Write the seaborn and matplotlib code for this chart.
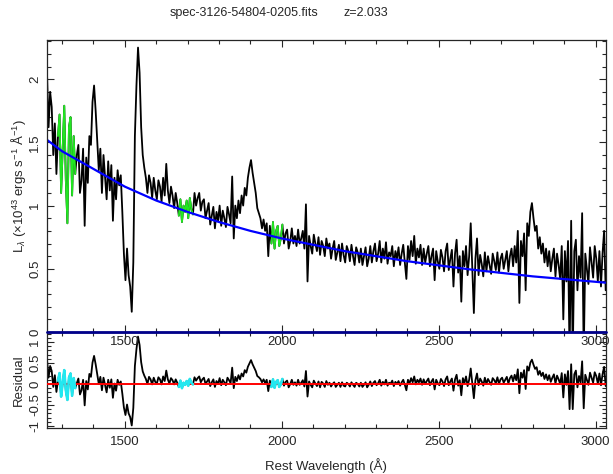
import numpy as np
import pandas as pd
import matplotlib
matplotlib.use("Agg")
import matplotlib.pyplot as plt
import seaborn as sns
from matplotlib.ticker import MultipleLocator, FixedLocator, FormatStrFormatter

# ---------------- data ----------------
title_file = "spec-3126-54804-0205.fits"
title_z = "z=2.033"

# spectrum sampled every 5 A from 1252 A
wave = np.arange(1252, 3033, 5)
flux = [
    2.05, 1.62, 1.90, 1.78, 1.40, 1.65, 1.25, 1.55, 1.72, 1.10, 1.45, 1.79, 1.20, 0.86, 1.62, 1.70, 1.08, 1.55, 1.25, 1.40,
    1.48, 1.10, 1.20, 1.45, 0.84, 1.38, 1.18, 1.55, 1.48, 1.82, 1.95, 1.75, 1.52, 1.28, 1.45, 1.10, 1.40, 1.22, 1.05, 1.35,
    1.12, 1.32, 0.88, 1.22, 1.05, 1.28, 1.16, 1.24, 0.95, 0.62, 0.41, 0.66, 0.45, 0.36, 0.16, 0.55, 1.55, 1.95, 2.25, 2.05,
    1.62, 1.40, 1.30, 1.22, 1.10, 1.24, 1.18, 1.06, 1.22, 1.12, 1.05, 1.20, 1.15, 1.03, 1.22, 1.08, 1.33, 1.12, 1.02, 1.15,
    1.08, 0.98, 1.10, 1.02, 0.92, 1.05, 0.87, 1.00, 0.95, 1.04, 0.90, 1.06, 0.97, 0.93, 1.10, 1.00, 1.06, 1.10, 0.96, 1.03,
    1.05, 0.90, 0.96, 1.02, 0.85, 0.92, 0.99, 0.82, 0.95, 0.88, 1.00, 0.84, 0.96, 0.90, 0.83, 0.99, 0.93, 0.86, 1.23, 0.74,
    1.00, 0.90, 1.04, 0.94, 1.08, 1.00, 1.14, 1.08, 1.22, 1.30, 1.36, 1.26, 1.18, 1.10, 0.98, 0.94, 0.90, 0.82, 0.89, 0.80,
    0.86, 0.60, 0.84, 0.70, 0.87, 0.66, 0.80, 0.84, 0.68, 0.74, 0.85, 0.70, 0.78, 0.81, 0.66, 0.72, 0.82, 0.70, 0.76, 0.68,
    0.81, 0.70, 0.74, 0.80, 0.66, 1.01, 0.40, 0.76, 0.68, 0.62, 0.77, 0.70, 0.64, 0.75, 0.61, 0.72, 0.68, 0.60, 0.74, 0.66,
    0.70, 0.58, 0.66, 0.72, 0.57, 0.63, 0.69, 0.56, 0.70, 0.61, 0.55, 0.68, 0.64, 0.56, 0.69, 0.60, 0.53, 0.67, 0.63, 0.55,
    0.66, 0.53, 0.60, 0.67, 0.52, 0.58, 0.68, 0.55, 0.64, 0.70, 0.56, 0.62, 0.72, 0.55, 0.66, 0.58, 0.71, 0.54, 0.63, 0.60,
    0.68, 0.52, 0.64, 0.58, 0.67, 0.53, 0.62, 0.69, 0.55, 0.42, 0.68, 0.57, 0.72, 0.60, 0.76, 0.54, 0.66, 0.59, 0.69, 0.53,
    0.66, 0.55, 0.62, 0.68, 0.52, 0.60, 0.66, 0.41, 0.64, 0.56, 0.50, 0.65, 0.59, 0.48, 0.64, 0.70, 0.49, 0.58, 0.65, 0.36,
    0.62, 0.73, 0.47, 0.60, 0.24, 0.64, 0.52, 0.68, 0.45, 0.60, 0.86, 0.50, 0.15, 0.58, 0.74, 0.45, 0.61, 0.54, 0.44, 0.63,
    0.48, 0.60, 0.53, 0.46, 0.62, 0.56, 0.49, 0.63, 0.47, 0.58, 0.62, 0.50, 0.57, 0.64, 0.48, 0.60, 0.66, 0.52, 0.68, 0.55,
    0.80, 0.23, 0.72, 0.60, 0.78, 0.33, 0.86, 0.76, 0.95, 1.02, 0.90, 0.80, 0.84, 0.66, 0.75, 0.62, 0.70, 0.55, 0.66, 0.52,
    0.64, 0.48, 0.58, 0.66, 0.44, 0.62, 0.53, 0.42, 0.68, 0.10, 0.64, 0.40, 0.72, -0.20, 0.88, -0.20, 0.64, 0.73, 0.33, 0.60,
    0.43, 0.94, -0.20, 0.62, 0.50, 0.38, 0.67, 0.55, 0.43, 0.68, 0.58, 0.40, 0.64, 0.36, 0.62, 0.80, 0.33,
]

# residual (data - continuum), same 5 A sampling
res_wave = np.arange(1252, 3033, 5)
residual = [
    0.58, 0.15, 0.43, 0.31, -0.07, 0.21, -0.19, 0.08, 0.26, -0.30, 0.03, 0.33, -0.15, -0.38, 0.15, 0.25, -0.28, 0.14, -0.10, 0.02,
    0.13, -0.25, -0.15, 0.10, -0.51, 0.07, -0.13, 0.24, 0.17, 0.51, 0.67, 0.47, 0.24, 0.00, 0.17, -0.15, 0.15, -0.03, -0.20, 0.10,
    -0.09, 0.11, -0.33, 0.01, -0.16, 0.10, -0.02, 0.06, -0.23, -0.56, -0.74, -0.49, -0.70, -0.79, -0.99, -0.57, 0.43, 0.83, 1.13, 0.93,
    0.52, 0.30, 0.20, 0.12, 0.00, 0.17, 0.11, -0.01, 0.15, 0.05, 0.01, 0.16, 0.11, -0.01, 0.18, 0.07, 0.32, 0.11, 0.01, 0.14,
    0.09, -0.01, 0.11, 0.03, -0.07, 0.08, -0.10, 0.03, -0.02, 0.07, -0.04, 0.12, 0.03, -0.01, 0.16, 0.08, 0.14, 0.18, 0.04, 0.11,
    0.15, 0.00, 0.06, 0.12, -0.05, 0.04, 0.11, -0.07, 0.07, 0.00, 0.14, -0.03, 0.10, 0.04, -0.03, 0.15, 0.09, 0.02, 0.39, -0.10,
    0.17, 0.07, 0.21, 0.11, 0.25, 0.18, 0.33, 0.27, 0.41, 0.49, 0.57, 0.47, 0.39, 0.31, 0.19, 0.16, 0.12, 0.04, 0.11, 0.02,
    0.10, -0.17, 0.08, -0.07, 0.11, -0.09, 0.05, 0.09, -0.07, -0.01, 0.12, -0.04, 0.05, 0.08, -0.08, 0.00, 0.10, -0.02, 0.04, -0.04,
    0.10, -0.02, 0.03, 0.09, -0.06, 0.31, -0.30, 0.06, -0.02, -0.08, 0.08, 0.01, -0.05, 0.06, -0.08, 0.05, 0.01, -0.07, 0.07, -0.02,
    0.03, -0.06, 0.00, 0.04, -0.07, -0.02, 0.03, -0.07, 0.04, -0.04, -0.06, 0.03, 0.00, -0.06, 0.04, -0.02, -0.07, 0.03, 0.00, -0.06,
    0.03, -0.07, -0.02, 0.04, -0.08, -0.02, 0.06, -0.05, 0.03, 0.07, -0.03, 0.02, 0.10, -0.04, 0.05, -0.01, 0.10, -0.04, 0.03, 0.01,
    0.08, -0.05, 0.05, 0.00, 0.07, -0.04, 0.04, 0.10, -0.02, -0.15, 0.10, 0.01, 0.14, 0.04, 0.18, -0.01, 0.10, 0.04, 0.13, -0.02,
    0.11, 0.00, 0.07, 0.13, -0.03, 0.06, 0.12, -0.13, 0.10, 0.02, -0.03, 0.12, 0.06, -0.05, 0.11, 0.18, -0.03, 0.06, 0.13, -0.16,
    0.11, 0.22, -0.04, 0.09, -0.27, 0.14, 0.02, 0.18, -0.05, 0.10, 0.37, 0.01, -0.34, 0.09, 0.25, -0.03, 0.13, 0.06, -0.04, 0.15,
    0.00, 0.12, 0.05, -0.02, 0.14, 0.09, 0.02, 0.16, 0.00, 0.11, 0.15, 0.03, 0.10, 0.17, 0.01, 0.14, 0.20, 0.06, 0.22, 0.09,
    0.35, -0.22, 0.27, 0.15, 0.33, -0.12, 0.42, 0.32, 0.51, 0.58, 0.46, 0.36, 0.40, 0.22, 0.31, 0.19, 0.27, 0.12, 0.23, 0.09,
    0.21, 0.05, 0.15, 0.23, 0.01, 0.20, 0.11, 0.00, 0.26, -0.32, 0.23, -0.02, 0.31, -0.60, 0.47, -0.60, 0.23, 0.32, -0.08, 0.19,
    0.03, 0.54, -0.58, 0.22, 0.10, -0.02, 0.27, 0.15, 0.03, 0.28, 0.19, 0.01, 0.25, -0.03, 0.23, 0.41, -0.05,
]

# power-law continuum fit
cont_wave = [1252, 1300, 1400, 1500, 1600, 1700, 1800, 1900, 2000, 2200, 2400, 2600, 2800, 3033]
cont_flux = [1.52, 1.43, 1.29, 1.15, 1.04, 0.95, 0.87, 0.80, 0.74, 0.64, 0.56, 0.495, 0.44, 0.39]

# continuum fitting windows (A)
fit_windows = [(1285, 1342), (1672, 1719), (1966, 2006)]

x_ticks = [1500, 2000, 2500, 3000]
top_yticks = [0, 0.5, 1, 1.5, 2]
res_yticks = [-1, -0.5, 0, 0.5, 1]

# ---------------- figure ----------------
sns.set_style("ticks")
plt.rcParams["font.family"] = ["Liberation Sans", "DejaVu Sans"]
plt.rcParams["mathtext.fontset"] = "custom"
plt.rcParams["mathtext.rm"] = "Liberation Sans"
plt.rcParams["mathtext.it"] = "Liberation Sans:italic"
plt.rcParams["mathtext.bf"] = "Liberation Sans:bold"

W, H = 613, 474
fig = plt.figure(figsize=(W / 100, H / 100), dpi=100)
x0, x1 = 47, 606
ax2 = fig.add_axes([x0 / W, 1 - 428 / H, (x1 - x0) / W, (428 - 332) / H])
ax1 = fig.add_axes([x0 / W, 1 - 332 / H, (x1 - x0) / W, (332 - 40) / H])

spec = pd.DataFrame({"wave": wave, "flux": flux})
res = pd.DataFrame({"wave": res_wave, "res": residual})
cont = pd.DataFrame({"wave": cont_wave, "flux": cont_flux})

# top panel
sns.lineplot(data=spec, x="wave", y="flux", estimator=None, sort=False,
             color="black", lw=1.3, ax=ax1)
for lo, hi in fit_windows:
    sub = spec[(spec.wave >= lo) & (spec.wave <= hi)]
    sns.lineplot(data=sub, x="wave", y="flux", estimator=None, sort=False,
                 color="#22e622", lw=1.3, ax=ax1)
sns.lineplot(data=cont, x="wave", y="flux", estimator=None, sort=False,
             color="#0000ff", lw=1.6, ax=ax1)
ax1.axhline(0, color="#00008b", lw=2.0, clip_on=False, zorder=5)

# residual panel
sns.lineplot(data=res, x="wave", y="res", estimator=None, sort=False,
             color="black", lw=1.3, ax=ax2)
ax2.axhline(0, color="#ff0000", lw=1.4, zorder=4)
for lo, hi in fit_windows:
    sub = res[(res.wave >= lo) & (res.wave <= hi)]
    sns.lineplot(data=sub, x="wave", y="res", estimator=None, sort=False,
                 color="#22e8f0", lw=1.9, ax=ax2, zorder=5)

for ax in (ax1, ax2):
    ax.set_xlim(1252, 3033)
    ax.set_xlabel("")
    ax.set_ylabel("")
    ax.xaxis.set_major_locator(FixedLocator(x_ticks))
    ax.xaxis.set_minor_locator(MultipleLocator(100))
    ax.tick_params(which="both", direction="in", top=True, right=True,
                   width=0.8, labelsize=9.5)
    ax.tick_params(which="major", length=5)
    ax.tick_params(which="minor", length=2.6)
    ax.tick_params(axis="y", labelrotation=90, pad=4)
    for s in ax.spines.values():
        s.set_linewidth(0.9)

ax1.set_ylim(0, 2.31)
ax1.yaxis.set_major_locator(FixedLocator(top_yticks))
ax1.yaxis.set_minor_locator(MultipleLocator(0.1))
ax1.yaxis.set_major_formatter(FormatStrFormatter("%g"))
ax1.tick_params(axis="x", pad=3)

ax2.set_ylim(-1.05, 1.24)
ax2.yaxis.set_major_locator(FixedLocator(res_yticks))
ax2.yaxis.set_minor_locator(MultipleLocator(0.1))
ax2.yaxis.set_major_formatter(FormatStrFormatter("%g"))
ax2.tick_params(axis="x", pad=6)

for ax in (ax1, ax2):
    for lbl in ax.get_yticklabels():
        lbl.set_va("center")

fig.text(170 / W, 1 - 13 / H, title_file, ha="left", va="center", fontsize=9)
fig.text(343 / W, 1 - 13 / H, title_z, ha="left", va="center", fontsize=9)
fig.text(19 / W, 1 - 186 / H,
         r"L$_{\lambda}$ ($\times$10$^{43}$ ergs s$^{-1}$ Å$^{-1}$)",
         rotation=90, ha="center", va="center", fontsize=9.5)
fig.text(19 / W, 1 - 380 / H, "Residual", rotation=90, ha="center", va="center",
         fontsize=9.5)
fig.text(326 / W, 1 - 466 / H, "Rest Wavelength (Å)", ha="center", va="center",
         fontsize=9.5)

fig.savefig("out.png", dpi=100)
